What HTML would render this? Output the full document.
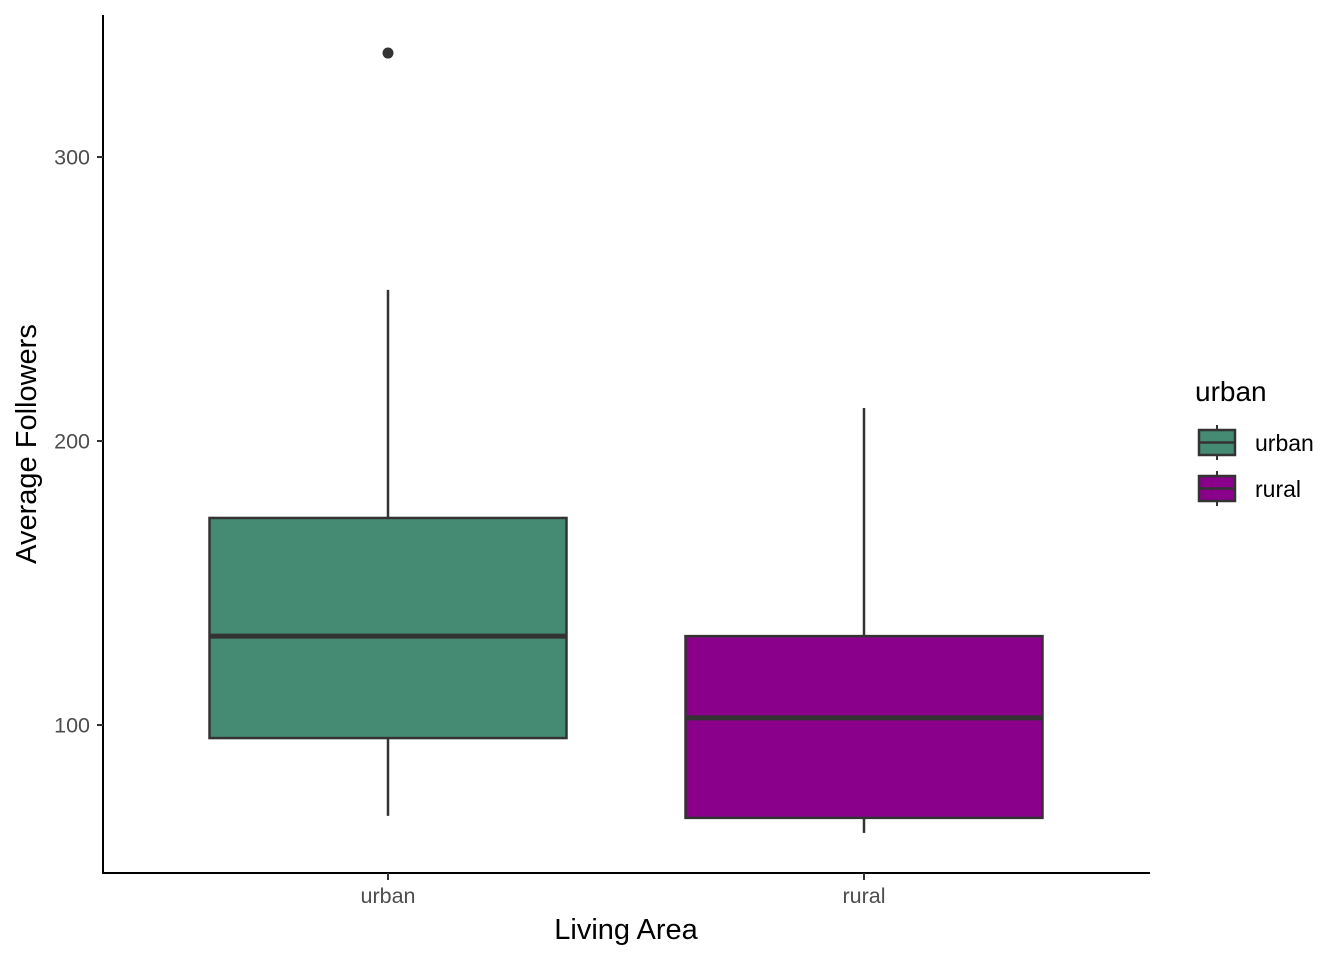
<!DOCTYPE html>
<html><head><meta charset="utf-8"><style>
body{margin:0;background:#fff}
svg text{font-family:"Liberation Sans",sans-serif}
</style></head><body>
<svg id="chart" width="1344" height="960" viewBox="0 0 1344 960">
<g id="plot"></g>
</svg>
<script>
const categories=["urban","rural"];
const whiskerLow=[68,62];
const q1=[95.4,67.3];
const median=[131.3,102.5];
const q3=[172.9,131.3];
const whiskerHigh=[253.2,211.6];
const outliers=[[336.6],[]];
const colors=["#458a73","#8b008b"];
const yTicks=[100,200,300];

const NS="http://www.w3.org/2000/svg";
const g=document.getElementById("plot");
function y(v){return 725-(v-100)*2.84;}
function x(i){return 388+i*476;}
function el(t,a,p){const e=document.createElementNS(NS,t);for(const k in a)e.setAttribute(k,a[k]);(p||g).appendChild(e);return e;}

let ax=el("line",{x1:103,y1:15,x2:103,y2:874,stroke:"#000","stroke-width":2});


let bx=el("line",{x1:102,y1:873,x2:1150,y2:873,stroke:"#000","stroke-width":2});



yTicks.forEach(t=>{
  let tk=el("line",{x1:97,x2:103,y1:y(t),y2:y(t),stroke:"#333","stroke-width":2});
  
  
  let tl=el("text",{x:90,y:y(t)+7.5,"text-anchor":"end","font-size":21.5,fill:"#4d4d4d"});
  tl.textContent=t;
  
  
});

categories.forEach((c,i)=>{
  const cx=x(i),hw=178.5;
  let tk=el("line",{x1:cx,x2:cx,y1:873,y2:880,stroke:"#333","stroke-width":2});
  
  
  let tl=el("text",{x:cx,y:903,"text-anchor":"middle","font-size":21.5,fill:"#4d4d4d"});
  tl.textContent=c;
  
  
  let w1=el("line",{x1:cx,x2:cx,y1:y(whiskerHigh[i]),y2:y(q3[i]),stroke:"#333","stroke-width":2.5});
  
  
  let w2=el("line",{x1:cx,x2:cx,y1:y(q1[i]),y2:y(whiskerLow[i]),stroke:"#333","stroke-width":2.5});
  
  
  let b=el("rect",{x:cx-hw,y:y(q3[i]),width:hw*2,height:y(q1[i])-y(q3[i]),fill:colors[i],stroke:"#333","stroke-width":2.5});
  
  
  let m=el("line",{x1:cx-hw,x2:cx+hw,y1:y(median[i]),y2:y(median[i]),stroke:"#333","stroke-width":5});
  
  
  outliers[i].forEach(o=>{
    let p=el("circle",{cx:cx,cy:y(o),r:5.5,fill:"#333"});
    
    
  });
});

let xt=el("text",{x:626,y:939,"text-anchor":"middle","font-size":29,fill:"#000"});
xt.textContent="Living Area";


let yt=el("text",{x:0,y:0,"text-anchor":"middle","font-size":29,fill:"#000",transform:"translate(36,444) rotate(-90)"});
yt.textContent="Average Followers";



let lt=el("text",{x:1195,y:401,"font-size":28,fill:"#000"});
lt.textContent="urban";


categories.forEach((c,i)=>{
  const top=430+i*46;
  let l=el("line",{x1:1217,x2:1217,y1:top-5,y2:top+30,stroke:"#333","stroke-width":2});
  
  
  let r=el("rect",{x:1199,y:top,width:36,height:25,fill:colors[i],stroke:"#333","stroke-width":2.5});
  
  
  let ml=el("line",{x1:1199,x2:1235,y1:top+12.5,y2:top+12.5,stroke:"#333","stroke-width":2.5});
  
  
  let t=el("text",{x:1255,y:top+21,"font-size":23,fill:"#000"});
  t.textContent=c;
  
  
});
</script>
</body></html>
